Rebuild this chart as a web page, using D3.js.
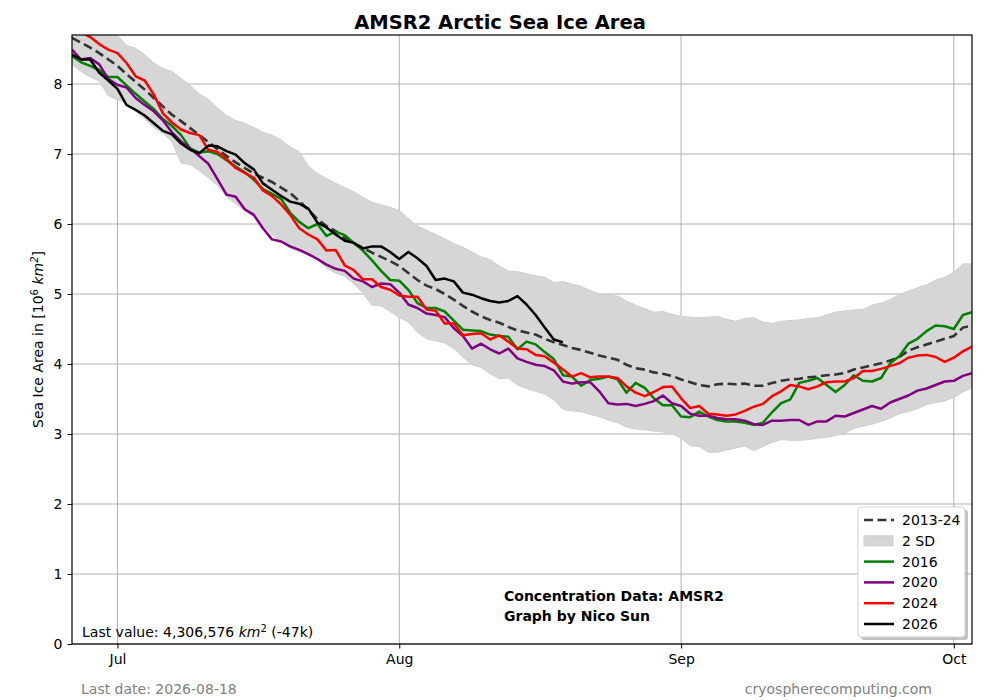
<!DOCTYPE html>
<html><head><meta charset="utf-8">
<script src="https://cdnjs.cloudflare.com/ajax/libs/d3/7.8.5/d3.min.js"></script>
<style>body{margin:0;background:#fff;} svg{font-family:"DejaVu Sans",sans-serif;}</style>
</head><body>
<svg id="c" width="1000" height="700"></svg>
<script>
const startDate = Date.UTC(2026,5,26);
const endDate = Date.UTC(2026,9,3);
const xTickDates = [Date.UTC(2026,6,1),Date.UTC(2026,7,1),Date.UTC(2026,8,1),Date.UTC(2026,9,1)];
const xTickLabels = ["Jul","Aug","Sep","Oct"];
const yTicks = [0,1,2,3,4,5,6,7,8];

const mean = [8.66,8.59,8.52,8.44,8.35,8.26,8.14,8.03,7.92,7.80,
7.68,7.56,7.47,7.37,7.27,7.17,7.07,6.97,6.88,6.80,
6.72,6.66,6.60,6.52,6.44,6.33,6.20,6.07,5.97,5.90,
5.80,5.72,5.66,5.59,5.53,5.47,5.40,5.30,5.20,5.12,
5.07,5.00,4.92,4.83,4.75,4.68,4.63,4.59,4.53,4.48,
4.45,4.42,4.36,4.31,4.27,4.23,4.20,4.16,4.12,4.09,
4.06,3.99,3.94,3.92,3.88,3.86,3.83,3.78,3.74,3.70,
3.68,3.71,3.72,3.71,3.72,3.69,3.69,3.73,3.76,3.78,
3.79,3.81,3.82,3.84,3.85,3.87,3.92,3.95,3.98,4.01,
4.05,4.10,4.19,4.24,4.28,4.32,4.36,4.40,4.52,4.55];

const sdUpper = [8.95,8.92,8.88,8.84,8.78,8.70,8.55,8.51,8.42,8.30,
8.22,8.18,8.08,7.98,7.86,7.78,7.66,7.55,7.48,7.44,
7.38,7.31,7.27,7.20,7.10,7.03,6.83,6.72,6.65,6.58,
6.52,6.46,6.38,6.31,6.27,6.24,6.19,6.08,5.97,5.91,
5.85,5.79,5.72,5.67,5.60,5.53,5.49,5.40,5.33,5.32,
5.29,5.26,5.24,5.16,5.18,5.14,5.11,5.05,5.00,4.98,
4.97,4.90,4.84,4.79,4.74,4.75,4.71,4.68,4.67,4.66,
4.67,4.68,4.64,4.61,4.65,4.66,4.60,4.58,4.61,4.62,
4.63,4.65,4.66,4.70,4.74,4.76,4.77,4.78,4.84,4.87,
4.92,4.99,5.04,5.09,5.13,5.20,5.24,5.31,5.43,5.43];

const sdLower = [8.28,8.18,8.10,8.04,7.83,7.78,7.72,7.62,7.50,7.38,
7.30,7.17,6.87,6.85,6.76,6.66,6.55,6.39,6.29,6.19,
6.10,5.98,5.85,5.74,5.65,5.61,5.55,5.49,5.37,5.30,
5.25,5.15,5.01,4.84,4.83,4.75,4.66,4.60,4.45,4.36,
4.33,4.30,4.22,4.10,3.99,3.95,3.86,3.79,3.80,3.70,
3.65,3.61,3.57,3.49,3.35,3.33,3.32,3.28,3.25,3.20,
3.16,3.10,3.07,3.06,3.04,3.03,3.01,2.94,2.83,2.82,
2.74,2.74,2.77,2.80,2.83,2.76,2.82,2.88,2.92,2.91,
2.91,2.92,2.94,2.95,2.98,3.01,3.08,3.11,3.14,3.18,
3.23,3.29,3.32,3.36,3.42,3.45,3.47,3.52,3.60,3.66];

const y2016 = [8.40,8.31,8.26,8.20,8.10,8.10,7.98,7.86,7.75,7.64,
7.50,7.40,7.27,7.08,7.02,7.04,7.00,6.91,6.82,6.74,
6.63,6.50,6.43,6.36,6.16,6.03,5.94,6.00,5.83,5.89,
5.84,5.73,5.62,5.48,5.33,5.20,5.19,5.06,4.87,4.80,
4.80,4.75,4.62,4.49,4.48,4.47,4.42,4.40,4.39,4.21,
4.32,4.28,4.17,4.07,3.84,3.82,3.69,3.77,3.79,3.82,
3.78,3.59,3.73,3.66,3.51,3.41,3.41,3.25,3.24,3.32,
3.25,3.20,3.18,3.18,3.16,3.13,3.16,3.31,3.44,3.49,
3.73,3.76,3.80,3.70,3.60,3.70,3.84,3.76,3.75,3.80,
4.01,4.11,4.29,4.36,4.47,4.55,4.54,4.50,4.70,4.74];

const y2020 = [8.49,8.35,8.37,8.28,8.07,7.99,7.95,7.80,7.70,7.61,
7.48,7.31,7.18,7.08,6.97,6.86,6.64,6.42,6.39,6.21,
6.13,5.94,5.78,5.75,5.68,5.63,5.57,5.50,5.42,5.36,
5.33,5.22,5.18,5.10,5.15,5.14,5.02,4.85,4.80,4.72,
4.70,4.67,4.51,4.40,4.22,4.29,4.21,4.15,4.22,4.08,
4.03,3.99,3.97,3.91,3.75,3.72,3.74,3.74,3.61,3.44,
3.42,3.43,3.40,3.43,3.47,3.55,3.44,3.40,3.29,3.26,
3.26,3.23,3.21,3.21,3.19,3.14,3.13,3.19,3.19,3.20,
3.20,3.13,3.18,3.18,3.26,3.25,3.30,3.35,3.40,3.36,
3.45,3.50,3.55,3.62,3.65,3.70,3.75,3.76,3.83,3.87];

const y2024 = [8.80,8.74,8.67,8.57,8.49,8.44,8.30,8.11,8.05,7.85,
7.58,7.45,7.35,7.30,7.27,7.06,7.03,6.93,6.80,6.73,
6.66,6.48,6.40,6.28,6.13,5.94,5.85,5.78,5.62,5.63,
5.41,5.34,5.21,5.21,5.10,5.06,4.98,4.96,4.96,4.78,
4.76,4.58,4.58,4.41,4.43,4.44,4.35,4.41,4.32,4.22,
4.21,4.13,4.11,4.02,3.92,3.82,3.87,3.81,3.82,3.82,
3.80,3.68,3.59,3.54,3.60,3.67,3.68,3.51,3.37,3.40,
3.29,3.28,3.26,3.28,3.33,3.39,3.43,3.54,3.61,3.70,
3.68,3.64,3.68,3.74,3.75,3.75,3.80,3.90,3.90,3.93,
3.97,4.01,4.09,4.12,4.13,4.10,4.03,4.09,4.18,4.25];

const y2026 = [8.42,8.35,8.35,8.16,8.05,7.93,7.70,7.63,7.55,7.44,
7.33,7.28,7.15,7.06,7.01,7.12,7.11,7.04,6.99,6.87,
6.78,6.58,6.49,6.40,6.32,6.29,6.22,6.02,5.95,5.85,
5.76,5.73,5.65,5.68,5.68,5.60,5.50,5.60,5.51,5.40,
5.20,5.22,5.18,5.02,4.99,4.94,4.90,4.88,4.90,4.97,
4.85,4.70,4.52,4.35,4.31];

const seriesNames = ["2016","2020","2024","2026"];
const seriesColors = ["#008000","#800080","#ff0000","#000000"];
const seriesData = [y2016,y2020,y2024,y2026];

const DAY = 86400000;
const FS = 14;
const svg = d3.select("#c");
const L=72, R=972, T=35, B=644;
const x = d3.scaleUtc().domain([startDate,endDate]).range([L,R]);
const y = d3.scaleLinear().domain([0,8.7]).range([B,T]);
const dateOf = i => startDate + i*DAY;

svg.append("defs").append("clipPath").attr("id","clip")
  .append("rect").attr("x",L).attr("y",T).attr("width",R-L).attr("height",B-T);

// grid
const g = svg.append("g");
g.selectAll(".hg").data(yTicks).join("line")
  .attr("x1",L).attr("x2",R).attr("y1",d=>y(d)).attr("y2",d=>y(d))
  .attr("stroke","#b0b0b0").attr("stroke-width",1);
g.selectAll(".vg").data(xTickDates).join("line")
  .attr("x1",d=>x(d)).attr("x2",d=>x(d)).attr("y1",T).attr("y2",B)
  .attr("stroke","#b0b0b0").attr("stroke-width",1);

const plot = svg.append("g").attr("clip-path","url(#clip)");
const area = d3.area().x((d,i)=>x(dateOf(i))).y0((d,i)=>y(sdLower[i])).y1(d=>y(d));
plot.append("path").datum(sdUpper).attr("d",area).attr("fill","#d6d6d6").attr("stroke","#cfcfcf").attr("stroke-width",1);

const line = d3.line().x((d,i)=>x(dateOf(i))).y(d=>y(d));
plot.append("path").datum(mean).attr("d",line).attr("fill","none")
  .attr("stroke","#333333").attr("stroke-width",2.6).attr("stroke-dasharray","9,4.5");
seriesData.forEach((s,k)=>{
  plot.append("path").datum(s).attr("d",line).attr("fill","none")
    .attr("stroke",seriesColors[k]).attr("stroke-width",2.5).attr("stroke-linejoin","round");
});

// axes
const yAxis = d3.axisLeft(y).tickValues(yTicks).tickSize(4.5).tickPadding(5).tickFormat(d3.format("d"));
const ya = svg.append("g").attr("transform",`translate(${L},0)`).call(yAxis);
const xAxis = d3.axisBottom(x).tickValues(xTickDates).tickSize(4.5).tickPadding(6).tickFormat((d,i)=>xTickLabels[i]);
const xa = svg.append("g").attr("transform",`translate(0,${B})`).call(xAxis);
[ya,xa].forEach(a=>{
  a.select(".domain").remove();
  a.selectAll("text").attr("font-size",FS).attr("fill","#000").attr("font-family","DejaVu Sans");
  a.selectAll("line").attr("stroke","#000");
});
svg.append("rect").attr("x",L).attr("y",T).attr("width",R-L).attr("height",B-T)
  .attr("fill","none").attr("stroke","#000").attr("stroke-width",1.2);

// title
svg.append("text").attr("x",500).attr("y",29).attr("text-anchor","middle")
  .attr("font-size",19.5).attr("font-weight","bold").text("AMSR2 Arctic Sea Ice Area");

// y label
const yl = svg.append("text").attr("transform",`translate(43,${(T+B)/2}) rotate(-90)`)
  .attr("text-anchor","middle").attr("font-size",FS);
yl.append("tspan").text("Sea Ice Area in [10");
yl.append("tspan").attr("font-size",10).attr("dy",-5).text("6");
yl.append("tspan").attr("dy",5).text(" ");
yl.append("tspan").attr("font-style","italic").text("km");
yl.append("tspan").attr("font-size",10).attr("font-style","italic").attr("dy",-5).text("2");
yl.append("tspan").attr("dy",5).text("]");

// last value
const lv = svg.append("text").attr("x",82).attr("y",637).attr("font-size",FS);
lv.append("tspan").text("Last value: 4,306,576 ");
lv.append("tspan").attr("font-style","italic").text("km");
lv.append("tspan").attr("font-size",10).attr("dy",-5).text("2");
lv.append("tspan").attr("dy",5).text(" (-47k)");

svg.append("text").attr("x",504).attr("y",601).attr("font-size",FS).attr("font-weight","bold").text("Concentration Data: AMSR2");
svg.append("text").attr("x",504).attr("y",621).attr("font-size",FS).attr("font-weight","bold").text("Graph by Nico Sun");

svg.append("text").attr("x",81).attr("y",694).attr("font-size",FS).attr("fill","#808080").text("Last date: 2026-08-18");
svg.append("text").attr("x",932).attr("y",694).attr("font-size",FS).attr("fill","#808080").attr("text-anchor","end").text("cryospherecomputing.com");

// legend
const lg = svg.append("g");
const lx=858, ly=507, lw=107, lh=130;
lg.append("rect").attr("x",lx+3).attr("y",ly+3).attr("width",lw).attr("height",lh).attr("rx",3).attr("fill","#999").attr("opacity",0.6);
lg.append("rect").attr("x",lx).attr("y",ly).attr("width",lw).attr("height",lh).attr("rx",3).attr("fill","#fff").attr("stroke","#d0d0d0");
const entries = [{t:"2013-24",type:"dash"},{t:"2 SD",type:"box"}].concat(seriesNames.map((n,i)=>({t:n,type:"line",c:seriesColors[i]})));
entries.forEach((e,i)=>{
  const cy = ly+13+i*20.8;
  if(e.type==="dash") lg.append("line").attr("x1",864).attr("x2",894).attr("y1",cy).attr("y2",cy).attr("stroke","#333").attr("stroke-width",2.6).attr("stroke-dasharray","9,4.5");
  else if(e.type==="box") lg.append("rect").attr("x",864).attr("y",cy-5).attr("width",29).attr("height",10).attr("fill","#d6d6d6").attr("stroke","#cfcfcf");
  else lg.append("line").attr("x1",864).attr("x2",894).attr("y1",cy).attr("y2",cy).attr("stroke",e.c).attr("stroke-width",2.5);
  lg.append("text").attr("x",902).attr("y",cy+5).attr("font-size",FS).text(e.t);
});
</script>
</body></html>
